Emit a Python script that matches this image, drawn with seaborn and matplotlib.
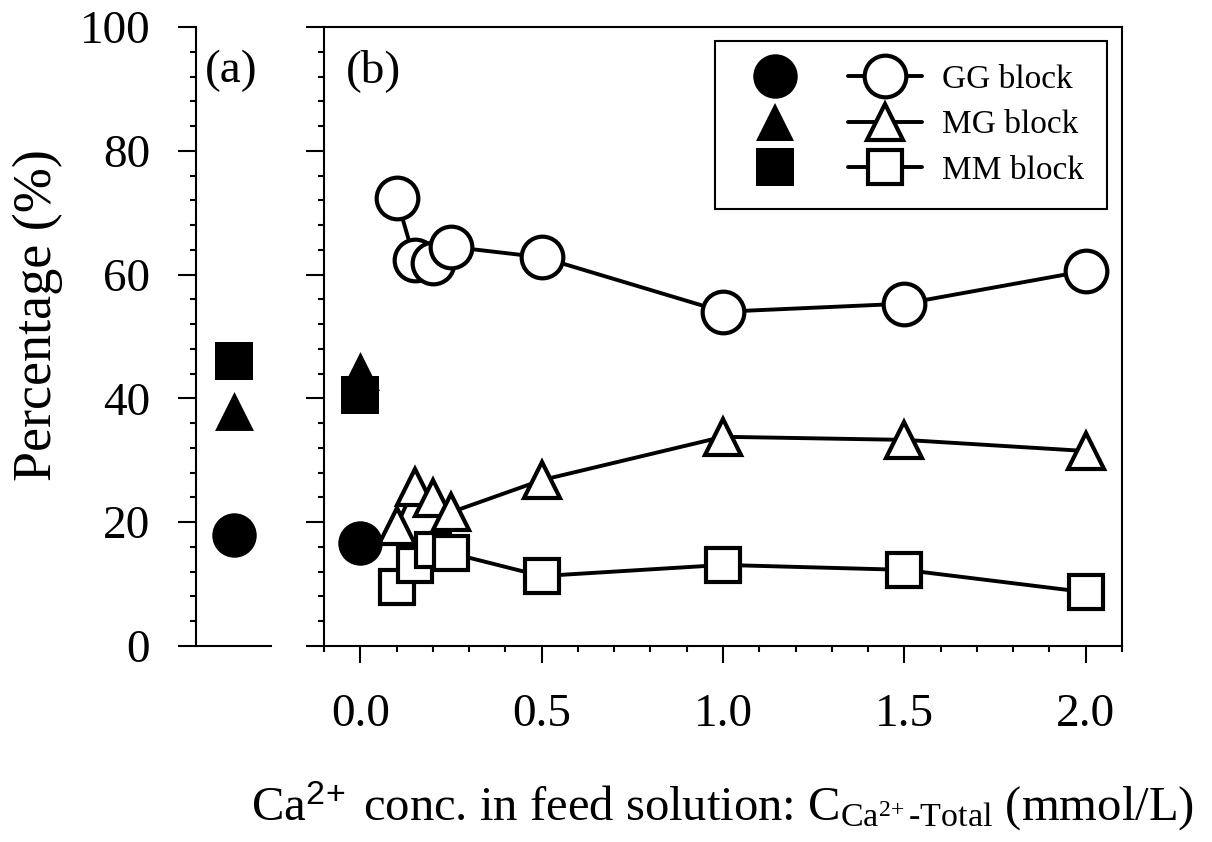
import matplotlib
matplotlib.use("Agg")
import matplotlib.pyplot as plt
from matplotlib.lines import Line2D
from matplotlib.legend_handler import HandlerTuple
from matplotlib.ticker import MultipleLocator, FormatStrFormatter
import seaborn as sns

# Ca2+ concentration in the feed solution (mmol/L)
conc = [0.1, 0.15, 0.2, 0.25, 0.5, 1.0, 1.5, 2.0]
gg_block = [72.4, 62.3, 61.8, 64.5, 62.8, 54.0, 55.3, 60.6]
mg_block = [19.4, 25.7, 23.9, 21.6, 26.8, 33.8, 33.3, 31.5]
mm_block = [9.5, 13.1, 15.5, 15.0, 11.3, 13.1, 12.3, 8.7]

# block composition of the starting alginate, panel (a)
block_names = ["GG block", "MG block", "MM block"]
raw_values = [18.0, 37.9, 46.0]
# composition at zero added Ca2+, panel (b)
zero_conc = [0.0, 0.0, 0.0]
zero_values = [16.6, 44.4, 40.5]

markers = ["o", "^", "s"]
sizes = [30, 26, 25]

sns.set_theme(style="ticks")
plt.rcParams["font.family"] = ["Liberation Serif", "DejaVu Serif"]
plt.rcParams["mathtext.fontset"] = "custom"
plt.rcParams["mathtext.rm"] = "Liberation Serif"
plt.rcParams["mathtext.it"] = "Liberation Serif:italic"
plt.rcParams["mathtext.sf"] = "Liberation Sans"
for key in ["text.color", "axes.labelcolor", "xtick.color", "ytick.color",
            "axes.edgecolor"]:
    plt.rcParams[key] = "black"
plt.rcParams["axes.linewidth"] = 1.5

W, H = 1212, 842
fig = plt.figure(figsize=(W / 100, H / 100), dpi=100)


def frac_box(x0, x1, ytop, ybot):
    return [x0 / W, 1 - ybot / H, (x1 - x0) / W, (ybot - ytop) / H]


ax_a = fig.add_axes(frac_box(196, 271, 27, 646))
ax_b = fig.add_axes(frac_box(324, 1122, 27, 646))

FS = 34
LW = 2.8
MEW = 3.0
tick_kw = dict(direction="out", color="black", width=1.5)

# ---- panel (a): starting material ----
for val, mk, sz in zip(raw_values, markers, sizes):
    sns.scatterplot(x=[0.0], y=[val], ax=ax_a, marker=mk, s=(sz + 2) ** 2,
                    color="black", edgecolor="black", linewidth=0, zorder=3)
ax_a.set_xlim(-0.5, 0.5)
ax_a.set_ylim(0, 100)
ax_a.yaxis.set_major_locator(MultipleLocator(20))
ax_a.yaxis.set_minor_locator(MultipleLocator(4))
ax_a.set_xticks([])
ax_a.tick_params(axis="y", which="major", length=13, pad=20, labelsize=FS, **tick_kw)
ax_a.tick_params(axis="y", which="minor", length=4.5, **tick_kw)
ax_a.spines["top"].set_visible(False)
ax_a.spines["right"].set_visible(False)
ax_a.set_facecolor("white")
ax_a.text(0.12, 91.1, "(a)", transform=ax_a.get_yaxis_transform(),
          fontsize=FS, ha="left", va="baseline")

# ---- panel (b): after gelation with Ca2+ ----
series = [gg_block, mg_block, mm_block]
for vals, mk, sz in zip(series, markers, sizes):
    sns.lineplot(x=conc, y=vals, ax=ax_b, color="black", linewidth=LW,
                 marker=mk, markersize=sz, markerfacecolor="white",
                 markeredgecolor="black", markeredgewidth=MEW,
                 estimator=None, sort=False, zorder=3)
for x0, val, mk, sz in zip(zero_conc, zero_values, markers, sizes):
    sns.scatterplot(x=[x0], y=[val], ax=ax_b, marker=mk, s=(sz + 2) ** 2,
                    color="black", edgecolor="black", linewidth=0, zorder=4)

ax_b.set_xlim(-0.1, 2.1)
ax_b.set_ylim(0, 100)
ax_b.xaxis.set_major_locator(MultipleLocator(0.5))
ax_b.xaxis.set_minor_locator(MultipleLocator(0.1))
ax_b.yaxis.set_major_locator(MultipleLocator(20))
ax_b.yaxis.set_minor_locator(MultipleLocator(4))
ax_b.xaxis.set_major_formatter(FormatStrFormatter("%.1f"))
ax_b.tick_params(axis="x", which="major", length=12, pad=22, labelsize=FS, **tick_kw)
ax_b.tick_params(axis="x", which="minor", length=4.5, **tick_kw)
ax_b.tick_params(axis="y", which="major", length=13, labelleft=False, **tick_kw)
ax_b.tick_params(axis="y", which="minor", length=4.5, **tick_kw)
ax_b.set_facecolor("white")
ax_b.text(-0.041, 91.1, "(b)", fontsize=FS, ha="left", va="baseline")
ax_b.set_xlabel("")
ax_b.set_ylabel("")

# legend: filled marker (starting alginate) beside open marker with line
handles = []
for mk, sz in zip(markers, sizes):
    filled = Line2D([], [], linestyle="none", marker=mk, markersize=sz + 2,
                    markerfacecolor="black", markeredgecolor="black",
                    markeredgewidth=0)
    opened = Line2D([], [], color="black", linewidth=LW, marker=mk,
                    markersize=sz, markerfacecolor="white",
                    markeredgecolor="black", markeredgewidth=MEW)
    handles.append((filled, opened))
leg = ax_b.legend(handles, block_names,
                  handler_map={tuple: HandlerTuple(ndivide=None, pad=1.05)},
                  loc="upper right", bbox_to_anchor=(1107 / W, 1 - 41 / H),
                  bbox_transform=fig.transFigure, borderaxespad=0,
                  fontsize=24, handlelength=5.5, handletextpad=0.6,
                  borderpad=0.7, labelspacing=0.45, frameon=True,
                  fancybox=False, framealpha=1)
leg.get_frame().set_edgecolor("black")
leg.get_frame().set_linewidth(1.5)

fig.text(38 / W, 1 - 315 / H, "Percentage (%)", rotation=90, ha="center",
         va="center", fontsize=39)
fig.text(722 / W, 1 - 820 / H,
         r"Ca$^{\mathsf{2\!+}}$ conc. in feed solution: C$_{\mathrm{Ca}^{2\!+}\text{-Total}}$ (mmol/L)",
         ha="center", va="baseline", fontsize=35)

fig.savefig("out.png", dpi=100, facecolor="white")
